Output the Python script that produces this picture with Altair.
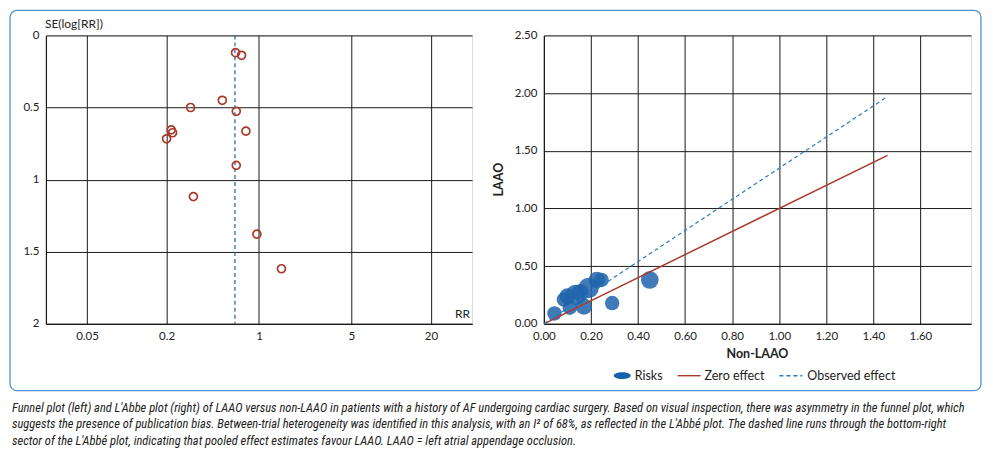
import altair as alt
import pandas as pd

# ---------------- data ----------------
# Funnel plot (left)
rr = [0.665, 0.738, 0.528, 0.304, 0.673, 0.217, 0.222, 0.796, 0.200, 0.673, 0.319, 0.964, 1.479]
se = [0.120, 0.138, 0.450, 0.500, 0.526, 0.655, 0.675, 0.664, 0.717, 0.901, 1.118, 1.378, 1.618]
pooled_rr = [0.658]
rr_ticks = [0.05, 0.2, 1, 5, 20]
se_ticks = [0, 0.5, 1, 1.5, 2]

# L'Abbe plot (right)
non_laao = [0.045, 0.085, 0.100, 0.135, 0.110, 0.170, 0.190, 0.155, 0.225, 0.245, 0.290, 0.450]
laao = [0.090, 0.210, 0.240, 0.250, 0.140, 0.150, 0.310, 0.270, 0.380, 0.380, 0.180, 0.380]
weight = [5, 5, 6, 10, 5, 6.5, 10, 7, 6.5, 5, 5, 7.5]
zero_x = [0.0, 1.46]
zero_y = [0.0, 1.46]
obs_x = [0.0, 1.46]
obs_y = [0.0, 1.97]
x_ticks_r = [0.0, 0.2, 0.4, 0.6, 0.8, 1.0, 1.2, 1.4, 1.6]
y_ticks_r = [0.0, 0.5, 1.0, 1.5, 2.0, 2.5]
series_names = ["Risks", "Zero effect", "Observed effect"]

caption_lines = [
    "Funnel plot (left) and L'Abbe plot (right) of LAAO versus non-LAAO in patients with a history of AF undergoing cardiac surgery. Based on visual inspection, there was asymmetry in the funnel plot, which",
    "suggests the presence of publication bias. Between-trial heterogeneity was identified in this analysis, with an I\u00b2 of 68%, as reflected in the L'Abb\u00e9 plot. The dashed line runs through the bottom-right",
    "sector of the L'Abb\u00e9 plot, indicating that pooled effect estimates favour LAAO. LAAO = left atrial appendage occlusion.",
]

# ---------------- styles ----------------
FONT = "Lato"
INK = "#1a1a1a"
LABEL = "#222222"
RED = "#a83a2c"
DASHBLUE = "#1f5fa8"
OBSBLUE = "#2b7bc2"
BUBBLE = "#1f64ac"
BORDER = "#5590cc"
CAP_FONT = "Liberation Sans Narrow, Roboto Condensed, DejaVu Sans Condensed, sans-serif"


def ax(values, fmt, pad):
    return alt.Axis(values=values, format=fmt, title=None, grid=True, gridColor=INK,
                    gridWidth=1, domainColor=INK, domainWidth=1.2, ticks=False, tickSize=0,
                    labelFont=FONT, labelFontSize=11.5, labelColor=LABEL, labelPadding=pad,
                    labelOverlap=False, labelFlush=False)


def label(text, x, y, align="left", size=12, weight="normal", angle=0, font=FONT, style="normal"):
    return alt.Chart(pd.DataFrame({"t": [text]})).mark_text(
        align=align, baseline="middle", font=font, fontSize=size, fontWeight=weight,
        fontStyle=style, angle=angle, color=LABEL).encode(text="t:N", x=alt.value(x), y=alt.value(y))


one = pd.DataFrame({"a": [0]})

# ---------------- left: funnel plot ----------------
funnel_df = pd.DataFrame({"rr": rr, "se": se})
pooled_df = pd.DataFrame({"rr": pooled_rr})
x_l = alt.Scale(type="log", domain=[0.02445, 40.9], nice=False)
y_l = alt.Scale(domain=[0, 2], reverse=True, nice=False, zero=False)

border = alt.Chart(one).mark_rect(fillOpacity=0, stroke=BORDER, strokeWidth=1.3, cornerRadius=7).encode(
    x=alt.value(-36), x2=alt.value(937), y=alt.value(-25), y2=alt.value(356))

points = alt.Chart(funnel_df).mark_point(shape="circle", filled=False, color=RED, size=64,
                                         strokeWidth=1.7, opacity=1).encode(
    x=alt.X("rr:Q", scale=x_l, axis=ax(rr_ticks, "~g", 7)),
    y=alt.Y("se:Q", scale=y_l, axis=ax(se_ticks, "~g", 7)))

pooled = alt.Chart(pooled_df).mark_rule(color=DASHBLUE, strokeDash=[4, 3], strokeWidth=1.2).encode(
    x=alt.X("rr:Q", scale=x_l))

cap_layers = [label(line, -34, 373 + 16.5 * i, font=CAP_FONT, style="italic", size=12.5)
              for i, line in enumerate(caption_lines)]

left = alt.layer(border, pooled, points,
                 label("SE(log[RR])", -1, -11),
                 label("RR", 425, 279, align="right"),
                 *cap_layers).properties(width=427, height=289)

# ---------------- right: L'Abbe plot ----------------
x_r = alt.Scale(domain=[0, 1.815], nice=False, zero=False)
y_r = alt.Scale(domain=[0, 2.5], nice=False, zero=False)
color_scale = alt.Scale(domain=series_names, range=[BUBBLE, RED, OBSBLUE])

bub_df = pd.DataFrame({"non_laao": non_laao, "laao": laao, "weight": weight, "series": series_names[0]})
zero_df = pd.DataFrame({"non_laao": zero_x, "laao": zero_y, "series": series_names[1]})
obs_df = pd.DataFrame({"non_laao": obs_x, "laao": obs_y, "series": series_names[2]})

xe = alt.X("non_laao:Q", scale=x_r, axis=ax(x_ticks_r, ".2f", 7))
ye = alt.Y("laao:Q", scale=y_r, axis=ax(y_ticks_r, ".2f", 7))
ce = alt.Color("series:N", scale=color_scale, legend=None)

bubbles = alt.Chart(bub_df).mark_circle(opacity=0.85).encode(
    x=xe, y=ye, color=ce,
    size=alt.Size("weight:Q", scale=alt.Scale(domain=[0, 10], range=[0, 420]), legend=None))

zero_line = alt.Chart(zero_df).mark_line(strokeWidth=1.5).encode(x=xe, y=ye, color=ce)
obs_line = alt.Chart(obs_df).mark_line(strokeWidth=1.2, strokeDash=[4, 3]).encode(x=xe, y=ye, color=ce)

# legend (drawn as guide marks)
ELLIPSE = ("M-0.74,0C-0.74,-0.16,-0.409,-0.29,0,-0.29C0.409,-0.29,0.74,-0.16,0.74,0"
           "C0.74,0.16,0.409,0.29,0,0.29C-0.409,0.29,-0.74,0.16,-0.74,0Z")
LEG_Y = 341
leg_ellipse = alt.Chart(one).mark_point(shape=ELLIPSE, filled=True, size=529, color="#1660ad",
                                        opacity=1, strokeWidth=0).encode(
    x=alt.value(78.5), y=alt.value(LEG_Y))
leg_zero = alt.Chart(one).mark_rule(color=RED, strokeWidth=1.4).encode(
    x=alt.value(134), x2=alt.value(157), y=alt.value(LEG_Y))
leg_obs = alt.Chart(one).mark_rule(color=OBSBLUE, strokeWidth=1.4, strokeDash=[4, 3]).encode(
    x=alt.value(236), x2=alt.value(259), y=alt.value(LEG_Y))

right = alt.layer(bubbles, zero_line, obs_line,
                  label("LAAO", -45, 144.5, align="center", size=12.5, weight="bold", angle=270),
                  label("Non-LAAO", 214, 319, align="center", size=12.5, weight="bold"),
                  leg_ellipse, leg_zero, leg_obs,
                  label(series_names[0], 91, LEG_Y, size=12.5),
                  label(series_names[1], 161, LEG_Y, size=12.5),
                  label(series_names[2], 264, LEG_Y, size=12.5),
                  ).properties(width=428, height=289)

chart = alt.hconcat(left, right, spacing=72, bounds="flush").properties(
    padding={"left": 0, "top": 0, "right": 2, "bottom": 2},
    background="white",
).configure_view(strokeWidth=0).configure(font=FONT)

chart.save("out.html", embed_options={"renderer": "svg", "actions": False})
